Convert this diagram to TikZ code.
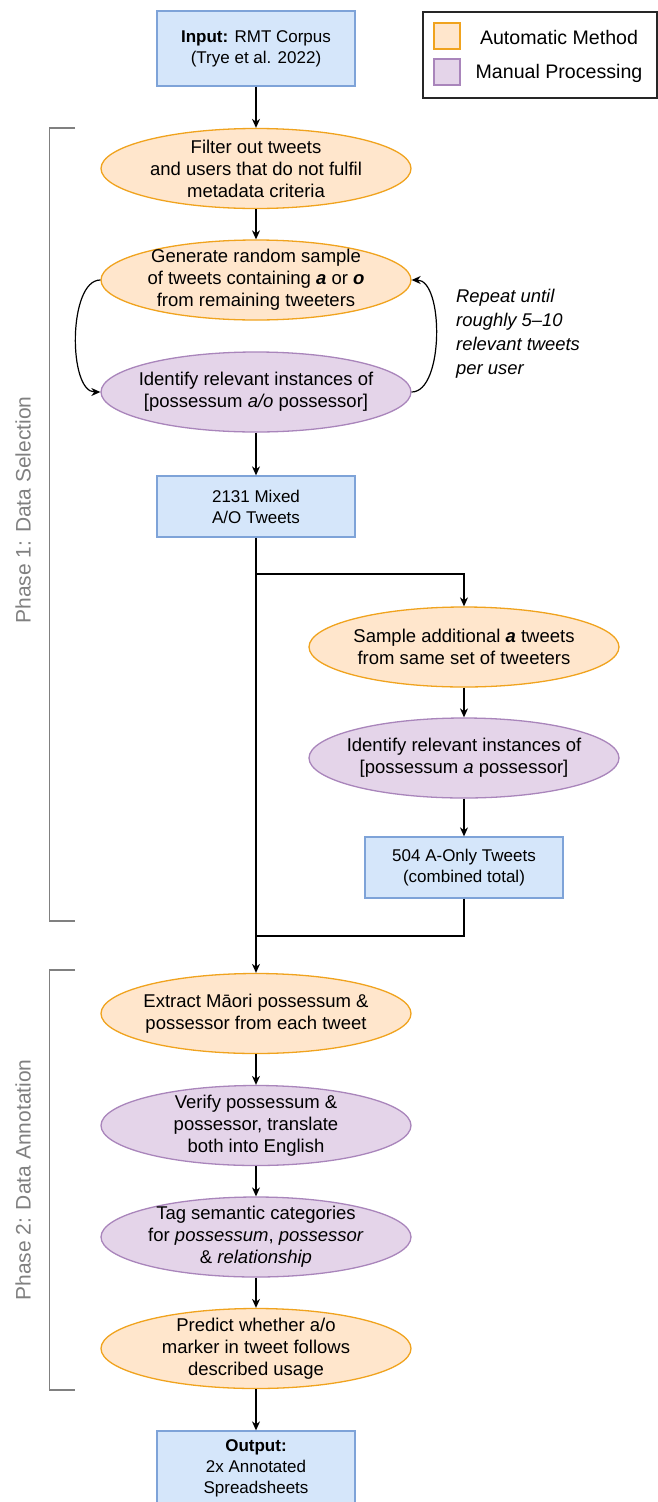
\documentclass[tikz,border=0pt]{standalone}
\usepackage{fontspec}
\setmainfont{Liberation Sans}
\usetikzlibrary{arrows.meta,shapes.geometric}
\definecolor{bfill}{HTML}{D5E6FA}
\definecolor{bline}{HTML}{7EA3D8}
\definecolor{ofill}{HTML}{FFE6CC}
\definecolor{oline}{HTML}{F0A31E}
\definecolor{pfill}{HTML}{E4D4E9}
\definecolor{pline}{HTML}{A985BB}
\definecolor{phgray}{HTML}{808080}
\begin{document}
\begin{tikzpicture}[x=1pt,y=-1pt,
  ell/.style={ellipse, minimum width=310pt, minimum height=80pt, inner sep=0pt, line width=1.3pt},
  autom/.style={ell, draw=oline, fill=ofill},
  manu/.style={ell, draw=pline, fill=pfill},
  etext/.style={align=center, inner sep=0pt, font=\fontsize{18.5}{22}\selectfont},
  box/.style={rectangle, draw=bline, fill=bfill, line width=1.3pt, minimum width=198pt, align=center, inner sep=0pt, font=\fontsize{17}{21}\selectfont},
  arr/.style={-{Stealth[length=9pt,width=8pt]}, line width=1.2pt},
  ln/.style={line width=1.2pt},
  bracket/.style={draw=phgray, line width=1.5pt},
  phase/.style={text=phgray, rotate=90, inner sep=0pt, font=\fontsize{21}{25}\selectfont},
  legtext/.style={inner sep=0pt, font=\fontsize{19.6}{23}\selectfont},
  swatch/.style={minimum width=26pt, minimum height=26pt, inner sep=0pt, line width=1.3pt}]
\useasboundingbox (0,0) rectangle (657,1502);

% legend
\node[draw=black!85, line width=1.3pt, minimum width=234pt, minimum height=86pt, inner sep=0pt] (leg) at (540,55) {};
\node[swatch, draw=oline, fill=ofill] (sw1) at (447,36) {};
\node[swatch, draw=pline, fill=pfill] (sw2) at (447,72) {};
\node[legtext] (lt1) at (559,37) {Automatic Method};
\node[legtext] (lt2) at (559,73) {Manual Processing};

% phase brackets
\draw[bracket] (75,128) -- (49.5,128) -- (49.5,921) -- (75,921);
\draw[bracket] (75,970) -- (49.5,970) -- (49.5,1390) -- (75,1390);
\node[phase] (p1) at (23,510) {Phase 1: Data Selection};
\node[phase] (p2) at (23,1180) {Phase 2: Data Annotation};

% nodes
\node[box, minimum height=75pt] (in) at (256,48.5) {\textbf{Input:} RMT Corpus\\(Trye et al. 2022)};

\node[autom] (filt) at (256,168.5) {};
\node[etext] (filtt) at (filt) {Filter out tweets\\and users that do not fulfil\\metadata criteria};

\node[autom] (gen) at (256,280) {};
\node[etext] (gent) at (gen) {Generate random sample\\of tweets containing \textbf{\textit{a}} or \textbf{\textit{o}}\\from remaining tweeters};

\node[manu] (ident) at (256,392) {};
\node[etext] (identt) at (ident) {Identify relevant instances of\\{[}possessum \textit{a/o} possessor{]}};

\node[box, minimum height=61pt] (mixed) at (256,506.5) {2131 Mixed\\A/O Tweets};

\node[autom] (samp) at (464,647) {};
\node[etext] (sampt) at (samp) {Sample additional \textbf{\textit{a}} tweets\\from same set of tweeters};

\node[manu] (ident2) at (464,758) {};
\node[etext] (ident2t) at (ident2) {Identify relevant instances of\\{[}possessum \textit{a} possessor{]}};

\node[box, minimum height=61pt] (aonly) at (464,867.5) {504 A-Only Tweets\\(combined total)};

\node[autom] (extr) at (256,1013.5) {};
\node[etext] (extrt) at (extr) {Extract Māori possessum \&\\possessor from each tweet};

\node[manu] (verif) at (256,1125.5) {};
\node[etext] (veriftt) at (verif) {Verify possessum \&\\possessor, translate\\both into English};

\node[manu] (tag) at (256,1237) {};
\node[etext] (tagt) at (tag) {Tag semantic categories\\for \textit{possessum}, \textit{possessor}\\\& \textit{relationship}};

\node[autom] (pred) at (256,1348.5) {};
\node[etext] (predt) at (pred) {Predict whether a/o\\marker in tweet follows\\described usage};

\node[box, minimum height=75pt] (out) at (256,1468.5) {\textbf{Output:}\\2x Annotated\\Spreadsheets};

\node[anchor=west, align=left, inner sep=0pt, font=\itshape\fontsize{18.4}{24}\selectfont] (rep) at (456,334) {Repeat until\\roughly 5–10\\relevant tweets\\per user};

% connectors
\draw[arr] (in) -- (filt);
\draw[arr] (filt) -- (gen);
\draw[arr] (gen.west) .. controls (68,280) and (68,392) .. (ident.west);
\draw[arr] (ident.east) .. controls (444,392) and (444,280) .. (gen.east);
\draw[arr] (ident) -- (mixed);
\coordinate (split) at (256,574);
\coordinate (splitr) at (464,574);
\draw[arr] (mixed.south) -- (extr.north);
\draw[arr] (split) -- (splitr) -- (samp.north);
\draw[arr] (samp) -- (ident2);
\draw[arr] (ident2) -- (aonly);
\coordinate (joinr) at (464,936);
\coordinate (join) at (256,936);
\draw[ln] (aonly.south) -- (joinr) -- (join);
\draw[arr] (extr) -- (verif);
\draw[arr] (verif) -- (tag);
\draw[arr] (tag) -- (pred);
\draw[arr] (pred) -- (out);
\end{tikzpicture}
\end{document}
